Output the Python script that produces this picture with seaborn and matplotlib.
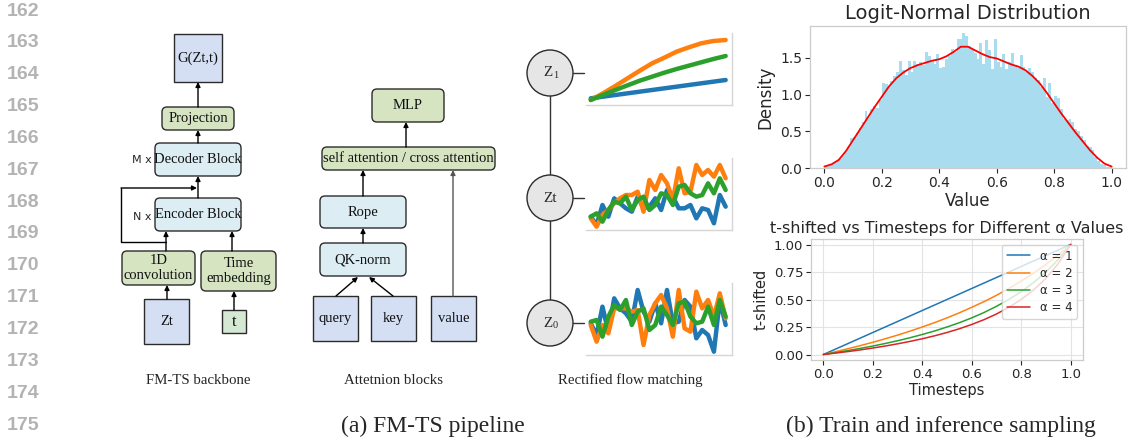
import numpy as np
import pandas as pd
import matplotlib
matplotlib.use("Agg")
import matplotlib.pyplot as plt
from matplotlib.patches import FancyBboxPatch, Rectangle, Circle
import seaborn as sns

# ---------------------------
# data
# ---------------------------
# logit-normal histogram: 100 bins on [0, 1]
hist_heights = [
    0.01, 0.03, 0.05, 0.07, 0.10, 0.12, 0.17, 0.22, 0.28, 0.41,
    0.42, 0.48, 0.55, 0.62, 0.77, 0.70, 0.80, 0.84, 0.82, 0.92,
    1.16, 1.14, 1.10, 1.18, 1.25, 1.30, 1.45, 1.33, 1.27, 1.45,
    1.30, 1.46, 1.42, 1.44, 1.40, 1.58, 1.52, 1.46, 1.41, 1.55,
    1.36, 1.38, 1.48, 1.52, 1.62, 1.58, 1.76, 1.75, 1.84, 1.80,
    1.66, 1.62, 1.57, 1.48, 1.70, 1.42, 1.74, 1.60, 1.35, 1.75,
    1.44, 1.38, 1.55, 1.35, 1.44, 1.57, 1.40, 1.36, 1.54, 1.38,
    1.30, 1.36, 1.30, 1.22, 1.20, 1.10, 1.23, 0.97, 1.15, 0.88,
    0.98, 0.95, 0.80, 0.66, 0.65, 0.66, 0.62, 0.53, 0.50, 0.44,
    0.38, 0.30, 0.28, 0.25, 0.15, 0.10, 0.06, 0.04, 0.02, 0.01,
]
bin_centers = [round(0.005 + 0.01 * i, 3) for i in range(100)]

kde_x = [i * 0.025 for i in range(41)]
kde_y = [0.02, 0.05, 0.11, 0.23, 0.38, 0.53, 0.68, 0.83, 0.97, 1.11,
         1.22, 1.30, 1.36, 1.40, 1.43, 1.46, 1.48, 1.52, 1.58, 1.65,
         1.65, 1.60, 1.55, 1.51, 1.49, 1.45, 1.41, 1.38, 1.33, 1.25,
         1.15, 1.02, 0.88, 0.74, 0.61, 0.48, 0.36, 0.24, 0.14, 0.06, 0.02]

# t-shifted curves
timesteps = [0.0, 0.05, 0.1, 0.15, 0.2, 0.25, 0.3, 0.35, 0.4, 0.45, 0.5,
             0.55, 0.6, 0.65, 0.7, 0.75, 0.8, 0.85, 0.9, 0.95, 1.0]
shift_a1 = timesteps
shift_a2 = [0.0, 0.026, 0.053, 0.081, 0.111, 0.143, 0.176, 0.212, 0.25, 0.29, 0.333,
            0.379, 0.429, 0.481, 0.538, 0.6, 0.667, 0.739, 0.818, 0.905, 1.0]
shift_a3 = [0.0, 0.017, 0.036, 0.056, 0.077, 0.1, 0.125, 0.152, 0.182, 0.214, 0.25,
            0.289, 0.333, 0.382, 0.438, 0.5, 0.571, 0.654, 0.75, 0.864, 1.0]
shift_a4 = [0.0, 0.013, 0.027, 0.042, 0.059, 0.077, 0.097, 0.119, 0.143, 0.17, 0.2,
            0.234, 0.273, 0.317, 0.368, 0.429, 0.5, 0.586, 0.692, 0.826, 1.0]

# rectified flow sketches
z1_x = [i / 11 for i in range(12)]
z1_blue = [0.20, 0.25, 0.30, 0.35, 0.40, 0.45, 0.50, 0.55, 0.60, 0.65, 0.70, 0.75]
z1_orange = [0.15, 0.35, 0.57, 0.80, 1.03, 1.25, 1.42, 1.60, 1.73, 1.85, 1.92, 1.95]
z1_green = [0.15, 0.30, 0.45, 0.59, 0.73, 0.85, 0.97, 1.08, 1.18, 1.28, 1.38, 1.47]

zn_x = [i / 23 for i in range(24)]
zt_blue = [.40, .15, .75, .40, .95, .80, .65, .55, 1.00, .65, .70, .95,
           .60, 1.20, 1.00, .65, .65, .75, .35, .65, .60, .20, 1.05, .70]
zt_orange = [.35, .10, .45, .60, .80, .95, 1.05, 1.05, 1.15, .55, 1.50, 1.20,
             1.65, 1.40, .90, 1.85, 1.10, 1.15, 1.95, 1.65, 1.80, 1.60, 1.95, 1.55]
zt_green = [.40, .50, .25, .60, .85, .80, 1.00, .60, .90, 1.00, .60, .75,
            1.10, 1.05, .75, 1.30, 1.35, 1.10, 1.00, 1.05, 1.40, 1.10, 1.55, 1.20]
z0_blue = [.95, .60, 1.45, .70, 1.70, 1.40, 1.25, 1.00, 1.95, 1.30, 1.00, 1.55,
           .95, 1.95, .95, 1.00, 1.65, 1.45, .50, .75, .60, .10, 1.65, .90]
z0_orange = [.90, .40, .90, .65, 1.40, 1.40, 1.40, 1.30, 1.35, .30, 1.20, 1.55,
             1.80, 1.40, .55, 1.95, .80, .70, 1.90, 1.40, 1.65, 1.15, 1.85, 1.10]
z0_green = [1.00, 1.05, .55, 1.15, 1.50, 1.35, 1.65, .90, 1.30, 1.40, .75, .90,
            1.45, 1.20, .90, 1.55, 1.60, 1.15, .95, 1.00, 1.45, .90, 1.65, 1.15]

line_numbers = list(range(162, 176))

# ---------------------------
# styling
# ---------------------------
sns.set_theme(style="ticks")
plt.rcParams["font.family"] = ["DejaVu Sans"]
SERIF = "Liberation Serif"
BLUE_BOX = "#d4dff4"
GREEN_BOX = "#d6e4c2"
CYAN_BOX = "#dcedf4"
T_BOX = "#d5e8d4"
EDGE = "#2b2b2b"
C_BLUE, C_ORANGE, C_GREEN, C_RED = "#1f77b4", "#ff7f0e", "#2ca02c", "#d62728"

W, H = 1129, 444
fig = plt.figure(figsize=(W / 100, H / 100), dpi=100)


def px_rect(left, top, right, bottom):
    return [left / W, 1 - bottom / H, (right - left) / W, (bottom - top) / H]


# ---------------------------
# diagram canvas (pixel coordinates)
# ---------------------------
ax0 = fig.add_axes([0, 0, 1, 1])
ax0.set_xlim(0, W)
ax0.set_ylim(H, 0)
ax0.axis("off")


def box(x0, y0, x1, y1, text, color, rounded=True, size=10.5, ls=1.25):
    if rounded:
        p = FancyBboxPatch((x0, y0), x1 - x0, y1 - y0,
                           boxstyle="round,pad=0,rounding_size=5",
                           fc=color, ec=EDGE, lw=1.0)
    else:
        p = Rectangle((x0, y0), x1 - x0, y1 - y0, fc=color, ec=EDGE, lw=1.0)
    ax0.add_patch(p)
    ax0.text((x0 + x1) / 2, (y0 + y1) / 2, text, ha="center", va="center",
             family=SERIF, fontsize=size, linespacing=ls, color="#111111")


def arrow(x0, y0, x1, y1, color="black"):
    ax0.annotate("", xy=(x1, y1), xytext=(x0, y0),
                 arrowprops=dict(arrowstyle="-|>", color=color, lw=1.0,
                                 mutation_scale=7, shrinkA=0, shrinkB=0))


# line numbers
for i, n in enumerate(line_numbers):
    ax0.text(7, 11 + 31.85 * i, str(n), ha="left", va="center",
             fontsize=14, fontweight="bold", color="#b3b3b3",
             family="Liberation Sans")

# FM-TS backbone
box(174, 34, 222, 82, "G(Zt,t)", BLUE_BOX, rounded=False)
box(162, 107, 234, 130, "Projection", GREEN_BOX)
box(155, 143, 241, 176, "Decoder Block", CYAN_BOX)
box(155, 198, 241, 231, "Encoder Block", CYAN_BOX)
box(122, 251, 195, 285, "1D\nconvolution", GREEN_BOX)
box(201, 251, 276, 291, "Time\nembedding", GREEN_BOX)
box(144, 299, 189, 344, "Zt", BLUE_BOX, rounded=False)
box(222, 310, 246, 333, "t", T_BOX, rounded=False, size=12)
ax0.text(142, 160, "M x", ha="center", va="center", fontsize=8)
ax0.text(142, 217, "N x", ha="center", va="center", fontsize=8)
arrow(167, 299, 167, 285)
arrow(166, 251, 166, 231)
arrow(234, 310, 234, 291)
arrow(232, 251, 232, 231)
arrow(198, 198, 198, 176)
arrow(198, 143, 198, 130)
arrow(198, 107, 198, 82)
ax0.plot([166, 121, 121], [242, 242, 188], color="black", lw=1.0)
arrow(121, 188, 197, 188)
ax0.text(198, 380, "FM-TS backbone", ha="center", va="center",
         family=SERIF, fontsize=10.7)

# attention blocks
box(372, 89, 444, 122, "MLP", GREEN_BOX)
box(322, 147, 495, 170, "self attention / cross attention", GREEN_BOX)
box(320, 196, 406, 228, "Rope", CYAN_BOX)
box(320, 243, 406, 276, "QK-norm", CYAN_BOX)
box(313, 296, 358, 341, "query", BLUE_BOX, rounded=False)
box(371, 296, 416, 341, "key", BLUE_BOX, rounded=False)
box(431, 296, 476, 341, "value", BLUE_BOX, rounded=False)
arrow(336, 296, 358, 277)
arrow(393, 296, 369, 277)
arrow(363, 243, 363, 228)
arrow(363, 196, 363, 170)
arrow(453, 296, 453, 170, color="#555555")
arrow(406, 147, 406, 122)
ax0.text(394, 380, "Attetnion blocks", ha="center", va="center",
         family=SERIF, fontsize=10.7)

# rectified flow matching
ax0.plot([550, 550], [73, 323], color="#333333", lw=1.0, zorder=1)
for cy, main, sub in [(73, "Z", "1"), (198, "Zt", ""), (323, "Z", "0")]:
    ax0.add_patch(Circle((550, cy), 23, fc="#e6e6e6", ec=EDGE, lw=1.0, zorder=2))
    ax0.plot([573, 584], [cy, cy], color="#333333", lw=1.0)
    if sub:
        ax0.text(553, cy, main, ha="right", va="center", family=SERIF,
                 fontsize=11, zorder=3)
        ax0.text(553, cy + 2, sub, ha="left", va="center", family=SERIF,
                 fontsize=7.5, zorder=3)
    else:
        ax0.text(550, cy, main, ha="center", va="center", family=SERIF,
                 fontsize=11, zorder=3)
ax0.text(630, 380, "Rectified flow matching", ha="center", va="center",
         family=SERIF, fontsize=10.7)

# captions
ax0.text(433, 426, "(a) FM-TS pipeline", ha="center", va="center",
         family=SERIF, fontsize=17)
ax0.text(941, 426, "(b) Train and inference sampling", ha="center", va="center",
         family=SERIF, fontsize=17)


def mini(top, x, series):
    ax = fig.add_axes(px_rect(586, top, 732, top + 72))
    for ys, c in series:
        sns.lineplot(x=x, y=ys, ax=ax, color=c, linewidth=3.2)
    ax.set_xlim(-0.035, 1.047)
    ax.set_ylim(0, 2.16)
    ax.set_xticks([])
    ax.set_yticks([])
    ax.set_xlabel("")
    ax.set_ylabel("")
    for s in ["top", "left"]:
        ax.spines[s].set_visible(False)
    for s in ["bottom", "right"]:
        ax.spines[s].set_color("#d6d6d6")
        ax.spines[s].set_linewidth(1.0)
    ax.patch.set_alpha(0)


mini(33, z1_x, [(z1_blue, C_BLUE), (z1_orange, C_ORANGE), (z1_green, C_GREEN)])
mini(158, zn_x, [(zt_blue, C_BLUE), (zt_orange, C_ORANGE), (zt_green, C_GREEN)])
mini(283, zn_x, [(z0_blue, C_BLUE), (z0_orange, C_ORANGE), (z0_green, C_GREEN)])

# ---------------------------
# logit-normal histogram
# ---------------------------
ax1 = fig.add_axes(px_rect(810, 26, 1126, 168))
sns.histplot(x=bin_centers, weights=hist_heights, bins=100, binrange=(0, 1),
             color="#87ceeb", alpha=0.7, linewidth=0, ax=ax1)
sns.lineplot(x=kde_x, y=kde_y, color="red", linewidth=1.3, ax=ax1)
ax1.set_title("Logit-Normal Distribution", fontsize=14, pad=5)
ax1.set_xlabel("Value", fontsize=12, labelpad=2)
ax1.set_ylabel("Density", fontsize=12)
ax1.set_xticks([0.0, 0.2, 0.4, 0.6, 0.8, 1.0])
ax1.set_yticks([0.0, 0.5, 1.0, 1.5])
ax1.tick_params(labelsize=10, length=3.5, width=0.8, pad=2)

# ---------------------------
# t-shifted vs timesteps
# ---------------------------
ax2 = fig.add_axes(px_rect(811, 239, 1083, 360))
df = pd.DataFrame({
    "Timesteps": timesteps * 4,
    "t-shifted": list(shift_a1) + shift_a2 + shift_a3 + shift_a4,
    "alpha": ["α = 1"] * 21 + ["α = 2"] * 21 + ["α = 3"] * 21 + ["α = 4"] * 21,
})
sns.lineplot(data=df, x="Timesteps", y="t-shifted", hue="alpha",
             palette=[C_BLUE, C_ORANGE, C_GREEN, C_RED], linewidth=1.1, ax=ax2)
ax2.grid(True, color="#e3e3e3", linewidth=0.8)
ax2.set_axisbelow(True)
ax2.set_title("t-shifted vs Timesteps for Different α Values", fontsize=11.5, pad=4)
ax2.set_xlabel("Timesteps", fontsize=10.5, labelpad=2)
ax2.set_ylabel("t-shifted", fontsize=10.5)
ax2.set_xticks([0.0, 0.2, 0.4, 0.6, 0.8, 1.0])
ax2.set_yticks([0.0, 0.25, 0.5, 0.75, 1.0])
ax2.set_xlim(-0.05, 1.05)
ax2.set_ylim(-0.05, 1.05)
ax2.tick_params(labelsize=9.5, length=3.5, width=0.8, pad=2)
leg = ax2.legend(loc="upper right", fontsize=8.5, title=None, framealpha=0.8,
                 handlelength=2.0, borderpad=0.4, labelspacing=0.35)

for ax in (ax1, ax2):
    for s in ax.spines.values():
        s.set_color("#cccccc")
        s.set_linewidth(0.9)

fig.savefig("out.png", dpi=100)
